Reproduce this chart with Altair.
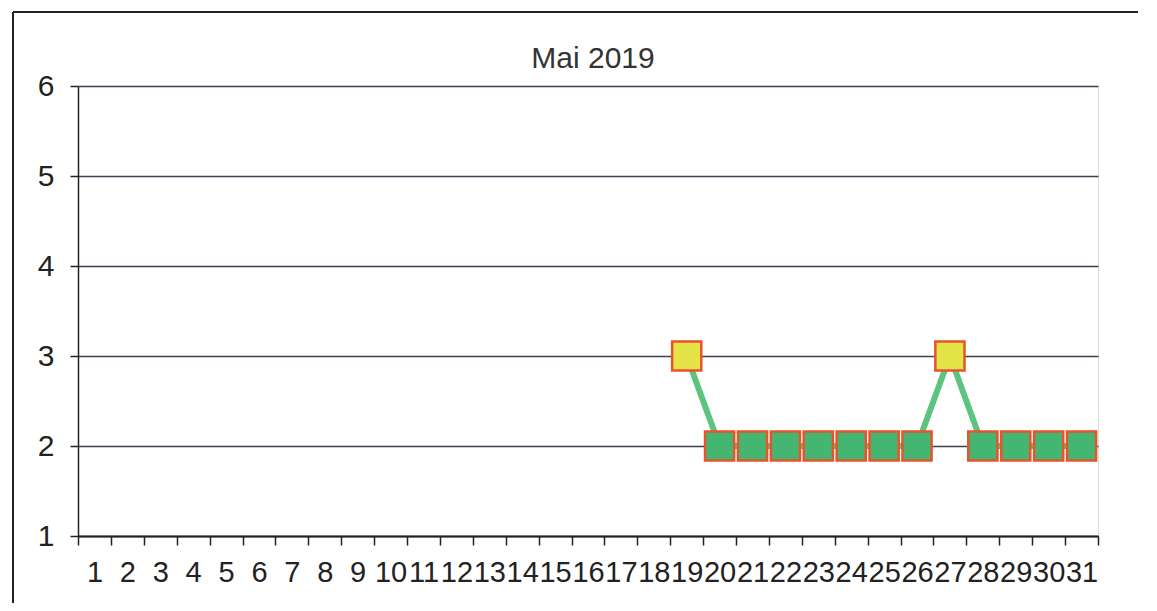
import altair as alt
import pandas as pd

# Categories on the x axis (days of May 2019)
day_labels = ["1", "2", "3", "4", "5", "6", "7", "8", "9", "10", "11", "12", "13", "14", "15", "16",
              "17", "18", "19", "20", "21", "22", "23", "24", "25", "26", "27", "28", "29", "30", "31"]
# Observed days and their index values
obs_days = ["19", "20", "21", "22", "23", "24", "25", "26", "27", "28", "29", "30", "31"]
obs_values = [3, 2, 2, 2, 2, 2, 2, 2, 3, 2, 2, 2, 2]
y_ticks = [1, 2, 3, 4, 5, 6]
title_text = "Mai 2019"

df = pd.DataFrame({"day": obs_days, "value": obs_values})

FONT = "Liberation Sans"

x_enc = alt.X(
    "day:O",
    scale=alt.Scale(domain=day_labels, paddingInner=0, paddingOuter=0),
    axis=alt.Axis(
        title=None, labelAngle=0, tickBand="extent", grid=False,
        domainColor="#222", domainWidth=2, tickColor="#222", tickWidth=1.5, tickSize=9,
        labelFont=FONT, labelFontSize=29, labelColor="#222", labelPadding=13,
        labelOverlap=False, labelFlush=False,
    ),
)
y_enc = alt.Y(
    "value:Q",
    scale=alt.Scale(domain=[1, 6], nice=False, zero=False),
    axis=alt.Axis(
        title=None, values=y_ticks, format="d", grid=True,
        gridColor="#37414f", gridWidth=1.6, gridOpacity=1,
        domainColor="#222", domainWidth=1.5, tickColor="#222", tickWidth=1.5, tickSize=8,
        labelFont=FONT, labelFontSize=30, labelColor="#222", labelPadding=16,
    ),
)

line = alt.Chart(df).mark_line(color="#5cc47e", strokeWidth=6).encode(x=x_enc, y=y_enc)
points = alt.Chart(df).mark_point(
    shape="square", filled=True, size=850, stroke="#e8532c", strokeWidth=2.5, opacity=1
).encode(
    x=x_enc,
    y=y_enc,
    color=alt.Color("value:O", scale=alt.Scale(domain=[2, 3], range=["#45b672", "#e4e448"]), legend=None),
)

single = pd.DataFrame({"k": [0]})
frame_top = alt.Chart(single).mark_rule(color="#222", strokeWidth=2).encode(
    x=alt.value(-65), x2=alt.value(1080), y=alt.value(-74)
)
frame_left = alt.Chart(single).mark_rule(color="#222", strokeWidth=2).encode(
    x=alt.value(-65), y=alt.value(-74), y2=alt.value(520)
)
title_mark = alt.Chart(single).mark_text(
    text=title_text, font=FONT, fontSize=30, color="#333", align="center", baseline="alphabetic"
).encode(x=alt.value(515), y=alt.value(-18))

chart = alt.layer(frame_top, frame_left, title_mark, line, points).properties(
    width=1020,
    height=450,
    autosize=alt.AutoSizeParams(type="none"),
    padding={"left": 70, "top": 78, "right": 40, "bottom": 67},
).configure_view(stroke="#999", strokeWidth=1).configure(background="white")

chart.save("out.html", embed_options={"renderer": "svg", "actions": False})
